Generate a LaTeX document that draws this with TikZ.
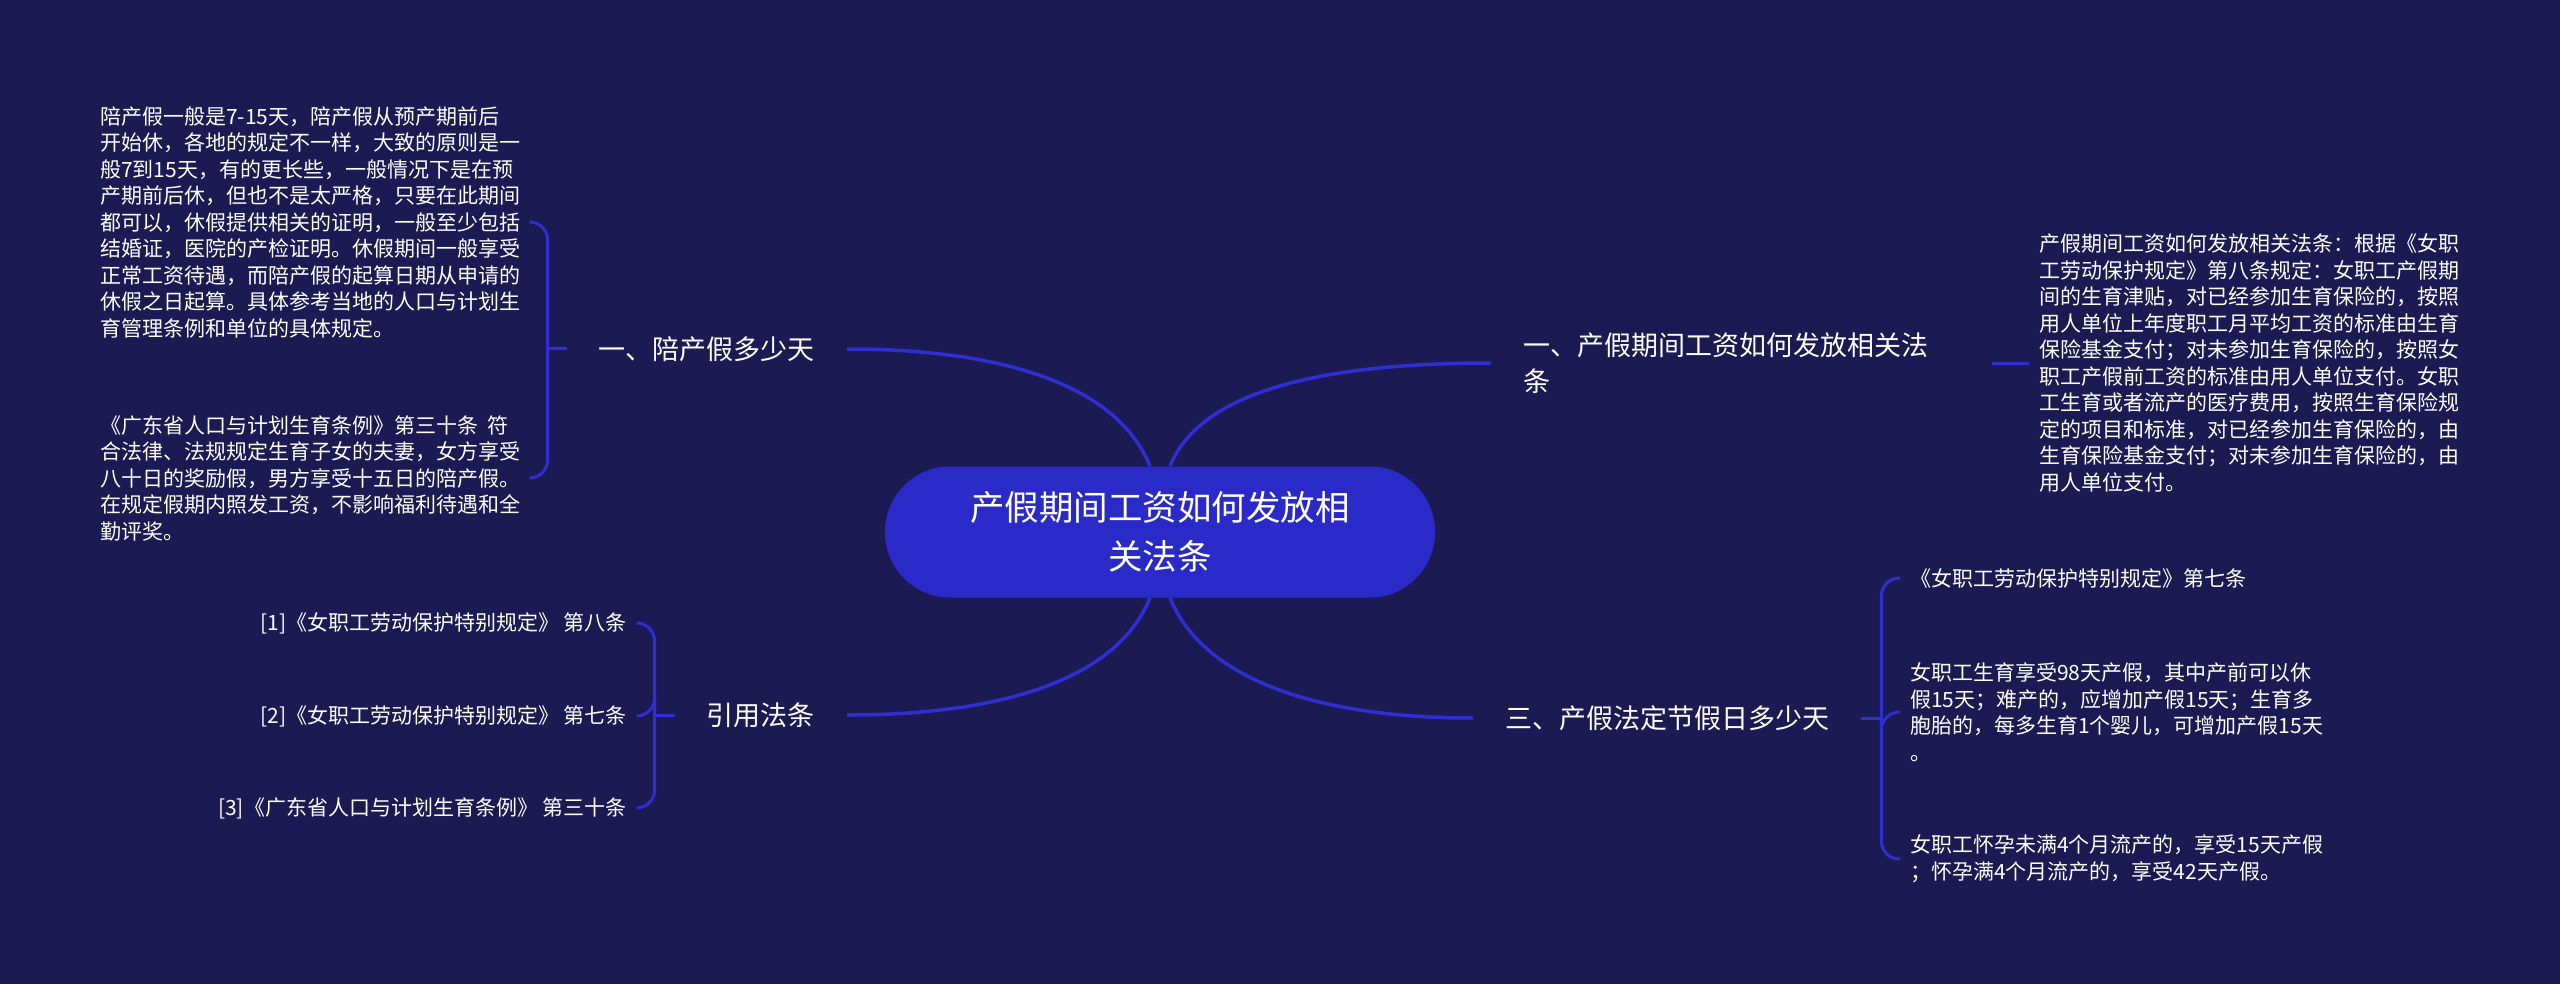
\documentclass[tikz,border=0pt]{standalone}
\usepackage{fontspec}
\newfontfamily\cjk{Noto Sans CJK SC}
\definecolor{bg}{RGB}{27,26,82}
\definecolor{hub}{RGB}{42,42,200}
\definecolor{wire}{RGB}{46,46,210}
\begin{document}
\begin{tikzpicture}[x=1pt,y=-1pt,
  txt/.style={text=white,inner sep=0pt},
  leaf/.style={txt, inner xsep=10pt, inner ysep=4pt, align=left, font=\cjk\fontsize{21}{26.5}\selectfont},
  branch/.style={txt, inner xsep=32pt, inner ysep=4pt, align=left, font=\cjk\fontsize{27}{36}\selectfont},
  hubnode/.style={fill=hub, rounded corners=65pt, minimum width=550pt, minimum height=131pt, text=white, align=center, font=\cjk\fontsize{34.5}{49}\selectfont},
  mainwire/.style={draw=wire, line width=3.5pt},
  subwire/.style={draw=wire, line width=3pt},
  curlwire/.style={draw=wire, line width=3pt, rounded corners=18pt},
]
\fill[bg] (0,0) rectangle (2560,984);
\useasboundingbox (0,0) rectangle (2560,984);

\node[hubnode] (c) at (1160,532) {产假期间工资如何发放相\\关法条};

\node[branch, anchor=east] (A) at (847,349) {一、陪产假多少天};
\node[branch, anchor=west, text width=437pt] (B) at (1491,363) {一、产假期间工资如何发放相关法\\条};
\node[branch, anchor=west] (C) at (1473,718) {三、产假法定节假日多少天};
\node[branch, anchor=east] (D) at (847,715) {引用法条};

\node[leaf, anchor=west] (A1) at (90,222) {陪产假一般是7-15天，陪产假从预产期前后\\开始休，各地的规定不一样，大致的原则是一\\般7到15天，有的更长些，一般情况下是在预\\产期前后休，但也不是太严格，只要在此期间\\都可以，休假提供相关的证明，一般至少包括\\结婚证，医院的产检证明。休假期间一般享受\\正常工资待遇，而陪产假的起算日期从申请的\\休假之日起算。具体参考当地的人口与计划生\\育管理条例和单位的具体规定。};
\node[leaf, anchor=west] (A2) at (90,478) {《广东省人口与计划生育条例》第三十条~~符\\合法律、法规规定生育子女的夫妻，女方享受\\八十日的奖励假，男方享受十五日的陪产假。\\在规定假期内照发工资，不影响福利待遇和全\\勤评奖。};

\node[leaf, anchor=west] (B1) at (2029,363) {产假期间工资如何发放相关法条：根据《女职\\工劳动保护规定》第八条规定：女职工产假期\\间的生育津贴，对已经参加生育保险的，按照\\用人单位上年度职工月平均工资的标准由生育\\保险基金支付；对未参加生育保险的，按照女\\职工产假前工资的标准由用人单位支付。女职\\工生育或者流产的医疗费用，按照生育保险规\\定的项目和标准，对已经参加生育保险的，由\\生育保险基金支付；对未参加生育保险的，由\\用人单位支付。};

\node[leaf, anchor=west] (C1) at (1900,578) {《女职工劳动保护特别规定》第七条};
\node[leaf, anchor=west] (C2) at (1900,712) {女职工生育享受98天产假，其中产前可以休\\假15天；难产的，应增加产假15天；生育多\\胞胎的，每多生育1个婴儿，可增加产假15天\\。};
\node[leaf, anchor=west] (C3) at (1900,859) {女职工怀孕未满4个月流产的，享受15天产假\\；怀孕满4个月流产的，享受42天产假。};

\node[leaf, anchor=east, align=right] (D1) at (637,623) {[1]《女职工劳动保护特别规定》 第八条};
\node[leaf, anchor=east, align=right] (D2) at (637,716) {[2]《女职工劳动保护特别规定》 第七条};
\node[leaf, anchor=east, align=right] (D3) at (637,808) {[3]《广东省人口与计划生育条例》 第三十条};

% main connectors
\draw[mainwire] ([xshift=-10pt]c.north) .. controls +(-30,-75) and +(170,0) .. (A.east);
\draw[mainwire] ([xshift=10pt]c.north) .. controls +(30,-75) and +(-170,0) .. (B.west);
\draw[mainwire] ([xshift=10pt]c.south) .. controls +(30,75) and +(-170,0) .. (C.west);
\draw[mainwire] ([xshift=-10pt]c.south) .. controls +(-30,75) and +(170,0) .. (D.east);

% brackets
\draw[subwire] (A.west) -- ++(-19,0) coordinate (Aj);
\draw[curlwire] (Aj) |- (A1.east);
\draw[curlwire] (Aj) |- (A2.east);

\draw[subwire] (B.east) -- (B1.west);

\draw[subwire] (C.east) -- ++(20,0) coordinate (Cj);
\draw[curlwire] (Cj) |- (C1.west);
\draw[curlwire] (Cj) |- (C2.west);
\draw[curlwire] (Cj) |- (C3.west);

\draw[subwire] (D.west) -- ++(-20,0) coordinate (Dj);
\draw[curlwire] (Dj) |- (D1.east);
\draw[curlwire] (Dj) |- (D2.east);
\draw[curlwire] (Dj) |- (D3.east);
\end{tikzpicture}
\end{document}
